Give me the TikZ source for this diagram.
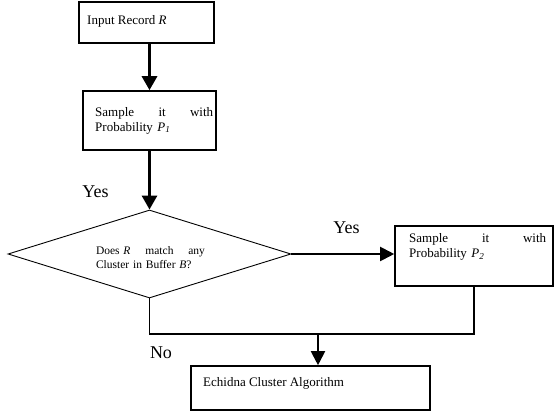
\documentclass[tikz,border=0pt]{standalone}
\usepackage{fontspec}
\setmainfont{Liberation Serif}
\usetikzlibrary{arrows.meta,shapes.geometric}
\begin{document}
\begin{tikzpicture}[x=1pt,y=-1pt,
 box/.style={draw, line width=1.6pt, inner sep=0pt},
 txt/.style={inner sep=0pt, font=\fontsize{13}{15}\selectfont, anchor=west, align=left},
 big/.style={inner sep=0pt, font=\fontsize{18}{20}\selectfont},
 varrow/.style={line width=3pt, -{Triangle[width=15pt,length=14pt]}},
 harrow/.style={line width=2pt, -{Triangle[width=14pt,length=14pt]}},
 conn/.style={line width=1.6pt}]
\useasboundingbox (0,0) rectangle (555,414);
\node[box, minimum width=135pt, minimum height=41pt] (b1) at (146.5,22.5) {};
\node[txt] (t1) at (87,21.5) {Input Record \textit{R}};
\node[box, minimum width=133pt, minimum height=59pt] (b2) at (149.5,120.5) {};
\node[txt, text width=118pt] (t2) at (95,120.5) {Sample\hfill it\hfill with\\Probability \textit{P}\textsubscript{\textit{1}}};
\node[draw, line width=0.9pt, shape=diamond, minimum width=283pt, minimum height=88pt, inner sep=0pt] (d) at (149.5,254) {};
\node[inner sep=0pt, font=\fontsize{11.5}{14.5}\selectfont, text width=109pt, align=left] (td) at (150.5,257.5) {Does \textit{R}\hfill match\hfill any\\Cluster in Buffer \textit{B}?};
\node[box, minimum width=158pt, minimum height=60pt] (b3) at (474,256) {};
\node[txt, text width=137pt] (t3) at (409,247) {Sample\hfill it\hfill with\\Probability \textit{P}\textsubscript{\textit{2}}};
\node[box, minimum width=239pt, minimum height=44pt] (b4) at (310.5,388) {};
\node[txt] (t4) at (203,383) {Echidna Cluster Algorithm};
\node[big] (y1) at (95.5,192) {Yes};
\node[big] (y2) at (346.5,228) {Yes};
\node[big] (n1) at (161,353) {No};
\coordinate (j) at (318,334);
\draw[varrow] (b1.south -| b2.north) -- (b2.north);
\draw[varrow] (b2.south) -- (d.north);
\draw[harrow] (d.east) -- (d.east -| b3.west);
\draw[conn] (d.south) |- (j) -| (b3.south);
\draw[harrow] (j) -- (j |- b4.north);
\end{tikzpicture}
\end{document}
